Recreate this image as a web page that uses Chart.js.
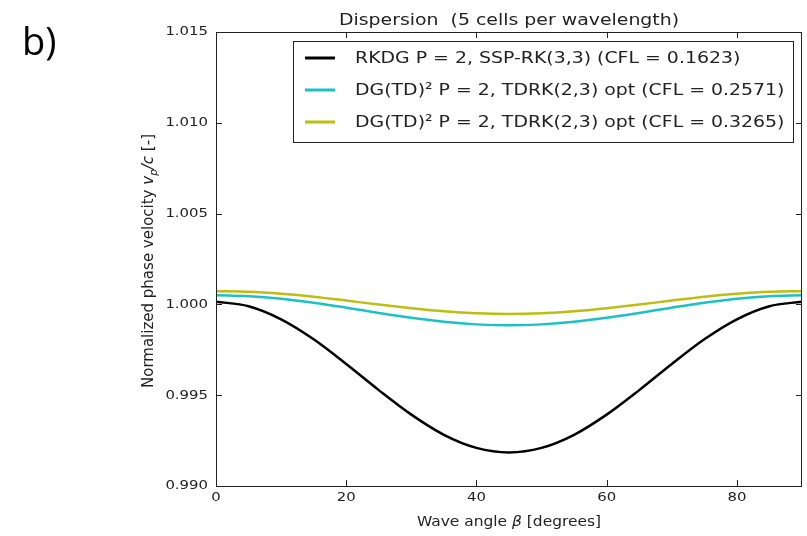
<!DOCTYPE html>
<html>
<head>
<meta charset="utf-8">
<script src="https://cdn.jsdelivr.net/npm/chart.js@4.4.1/dist/chart.umd.min.js"></script>
<style>
  html, body { margin: 0; padding: 0; background: #fff; }
  #wrap { position: relative; width: 807px; height: 536px; }
  #tag { position: absolute; left: 22px; top: 14px; font: 38px "Open Sans", "DejaVu Sans", sans-serif; color: #000; }
</style>
</head>
<body>
<div id="wrap">
  <canvas id="dispersionChart" width="807" height="536"></canvas>
  <div id="tag">b)</div>
</div>
<script>
// Dados
const angles = [0, 5, 10, 15, 20, 25, 30, 35, 40, 45, 50, 55, 60, 65, 70, 75, 80, 85, 90];
const rkdgVel = [1.00015, 0.99990, 0.99918, 0.99808, 0.99672, 0.99528, 0.99393, 0.99282, 0.99210, 0.99185,
                 0.99210, 0.99282, 0.99393, 0.99528, 0.99672, 0.99808, 0.99918, 0.99990, 1.00015];
const tdCfl1Vel = [1.00050, 1.00045, 1.00031, 1.00009, 0.99982, 0.99953, 0.99926, 0.99904, 0.99890, 0.99885,
                   0.99890, 0.99904, 0.99926, 0.99953, 0.99982, 1.00009, 1.00031, 1.00045, 1.00050];
const tdCfl2Vel = [1.00073, 1.00069, 1.00058, 1.00042, 1.00021, 0.99999, 0.99979, 0.99962, 0.99951, 0.99947,
                   0.99951, 0.99962, 0.99979, 0.99999, 1.00021, 1.00042, 1.00058, 1.00069, 1.00073];
const seriesLabels = [
    'RKDG P = 2, SSP-RK(3,3) (CFL = 0.1623)',
    'DG(TD)² P = 2, TDRK(2,3) opt (CFL = 0.2571)',
    'DG(TD)² P = 2, TDRK(2,3) opt (CFL = 0.3265)'
];
const seriesColors = ['#000000', '#1cc2c2', '#bdbd12'];
const xTicks = [0, 20, 40, 60, 80];
const yTicks = [0.990, 0.995, 1.000, 1.005, 1.010, 1.015];

const FONT = '"DejaVu Sans", sans-serif';
const SX = 1.145; // o original está esticado na horizontal

function toPoints(values) {
    return angles.map((a, i) => ({ x: a, y: values[i] }));
}

function sText(ctx, text, x, y, align) {
    ctx.save();
    ctx.translate(x, y);
    ctx.scale(SX, 1);
    ctx.textAlign = align;
    ctx.fillText(text, 0, 0);
    ctx.restore();
}

function drawParts(ctx, parts, cx, y, size, sx) {
    const widths = parts.map(p => {
        ctx.font = (p[1] || '') + (p[2] || size) + 'px ' + FONT;
        return ctx.measureText(p[0]).width;
    });
    const total = widths.reduce((s, w) => s + w, 0);
    ctx.save();
    ctx.translate(cx, y);
    ctx.scale(sx, 1);
    let x = -total / 2;
    ctx.textAlign = 'left';
    parts.forEach((p, i) => {
        ctx.font = (p[1] || '') + (p[2] || size) + 'px ' + FONT;
        ctx.fillText(p[0], x, p[3] || 0);
        x += widths[i];
    });
    ctx.restore();
}

// Moldura, ticks internos, rótulos, título e legenda
const mplDecor = {
    id: 'mplDecor',
    afterDraw(chart) {
        const ctx = chart.ctx;
        const a = chart.chartArea;
        const xs = chart.scales.x, ys = chart.scales.y;
        ctx.save();
        ctx.strokeStyle = '#222';
        ctx.lineWidth = 1;
        ctx.strokeRect(a.left + 0.5, a.top + 0.5, a.right - a.left - 1, a.bottom - a.top);
        ctx.beginPath();
        xTicks.forEach(v => {
            const px = Math.round(xs.getPixelForValue(v)) + 0.5;
            ctx.moveTo(px, a.bottom); ctx.lineTo(px, a.bottom - 6);
            ctx.moveTo(px, a.top); ctx.lineTo(px, a.top + 6);
        });
        yTicks.forEach(v => {
            const py = Math.round(ys.getPixelForValue(v)) + 0.5;
            ctx.moveTo(a.left, py); ctx.lineTo(a.left + 6, py);
            ctx.moveTo(a.right, py); ctx.lineTo(a.right - 6, py);
        });
        ctx.stroke();

        // rótulos dos ticks
        ctx.fillStyle = '#222';
        ctx.font = '13px ' + FONT;
        ctx.textBaseline = 'middle';
        yTicks.forEach(v => sText(ctx, v.toFixed(3), a.left - 8, ys.getPixelForValue(v), 'right'));
        ctx.textBaseline = 'top';
        xTicks.forEach(v => sText(ctx, String(v), xs.getPixelForValue(v), a.bottom + 5, 'center'));

        // título
        ctx.font = '16.5px ' + FONT;
        ctx.textBaseline = 'alphabetic';
        sText(ctx, 'Dispersion  (5 cells per wavelength)', (a.left + a.right) / 2, 25, 'center');

        // legenda
        const lx = 293, ly = 41, lw = 500, lh = 101;
        ctx.fillStyle = '#fff';
        ctx.fillRect(lx, ly, lw, lh);
        ctx.strokeStyle = '#222';
        ctx.strokeRect(lx + 0.5, ly + 0.5, lw, lh);
        ctx.font = '16.5px ' + FONT;
        ctx.textBaseline = 'middle';
        seriesLabels.forEach((lab, i) => {
            const y = 58 + i * 32;
            ctx.strokeStyle = seriesColors[i];
            ctx.lineWidth = 3;
            ctx.beginPath();
            ctx.moveTo(305, y); ctx.lineTo(335, y);
            ctx.stroke();
            ctx.fillStyle = '#222';
            sText(ctx, lab, 355, y + 1, 'left');
        });

        // rótulo do eixo x
        ctx.textBaseline = 'alphabetic';
        const xParts = [['Wave angle ', ''], ['β', 'italic '], [' [degrees]', '']];
        drawParts(ctx, xParts, (a.left + a.right) / 2, 526, 13.5, SX);

        // rótulo do eixo y
        ctx.translate(153, 261);
        ctx.rotate(-Math.PI / 2);
        const yParts = [['Normalized phase velocity ', ''], ['v', 'italic '], ['p', 'italic ', 10.5, 4], ['/c', 'italic '], [' [-]', '']];
        drawParts(ctx, yParts, 0, 0, 15, 1);
        ctx.restore();
    }
};

const dataSeries = [rkdgVel, tdCfl1Vel, tdCfl2Vel];

new Chart(document.getElementById('dispersionChart'), {
    type: 'line',
    data: {
        datasets: dataSeries.map((vals, i) => ({
            label: seriesLabels[i],
            data: toPoints(vals),
            borderColor: seriesColors[i],
            borderWidth: 2.5,
            pointRadius: 0,
            cubicInterpolationMode: 'monotone',
            fill: false
        }))
    },
    options: {
        responsive: false,
        animation: false,
        layout: { padding: { top: 32, right: 5, left: 0, bottom: 0 } },
        plugins: {
            legend: { display: false },
            tooltip: { enabled: false }
        },
        scales: {
            x: {
                type: 'linear',
                min: 0, max: 90,
                afterBuildTicks: s => { s.ticks = xTicks.map(v => ({ value: v })); },
                afterFit: s => { s.height = 50; },
                grid: { display: false, drawTicks: false },
                border: { display: false },
                ticks: { display: false }
            },
            y: {
                type: 'linear',
                min: 0.990, max: 1.015,
                afterBuildTicks: s => { s.ticks = yTicks.map(v => ({ value: v })); },
                afterFit: s => { s.width = 216; },
                grid: { display: false, drawTicks: false },
                border: { display: false },
                ticks: { display: false }
            }
        }
    },
    plugins: [mplDecor]
});
</script>
</body>
</html>
